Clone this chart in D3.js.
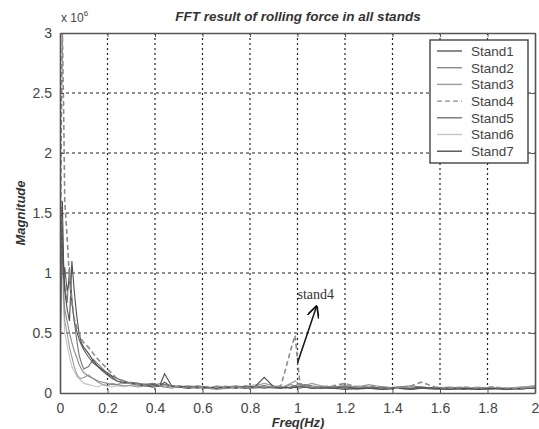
<!DOCTYPE html>
<html>
<head>
<meta charset="utf-8">
<script src="https://cdn.jsdelivr.net/npm/d3@7"></script>
<style>
  body { margin: 0; background: #fff; }
  svg text { font-family: "Liberation Sans", Arial, sans-serif; }
</style>
</head>
<body>
<div id="chart"></div>
<script>
// frequency grid (Hz), shared by all stands
var freq = [0, 0.005, 0.01, 0.015, 0.02,
  0.03, 0.04, 0.05, 0.06, 0.07, 0.08, 0.09, 0.1,
  0.12, 0.14, 0.16, 0.18, 0.2,
  0.22, 0.24, 0.27, 0.3,
  0.33, 0.36, 0.39, 0.42, 0.44, 0.47, 0.5,
  0.54, 0.58, 0.62, 0.66, 0.7, 0.74, 0.78, 0.82, 0.86, 0.9,
  0.93, 0.95, 0.97, 0.99, 1.01, 1.03, 1.06, 1.1,
  1.15, 1.2, 1.25, 1.3, 1.36, 1.42, 1.48, 1.52, 1.58, 1.64, 1.7, 1.76, 1.82, 1.88, 1.94, 2.0];

// magnitudes in units of 1e6
var stand1 = [0.08, 1.55, 1.25, 0.95, 1.05,
  0.85, 0.95, 0.75, 0.6, 0.52, 0.45, 0.4, 0.36,
  0.3, 0.25, 0.22, 0.18, 0.15,
  0.12, 0.1, 0.09, 0.08,
  0.07, 0.06, 0.07, 0.06, 0.09, 0.05, 0.06,
  0.05, 0.04, 0.05, 0.04, 0.05, 0.04, 0.06, 0.05, 0.04, 0.05,
  0.04, 0.05, 0.04, 0.05, 0.06, 0.05, 0.04, 0.05,
  0.04, 0.05, 0.04, 0.04, 0.05, 0.04, 0.04, 0.05, 0.04, 0.04, 0.03, 0.04, 0.04, 0.03, 0.04, 0.04];
var stand2 = [0.05, 1.2, 1.4, 0.8, 0.7,
  0.6, 0.5, 0.42, 0.35, 0.3, 0.24, 0.2, 0.17,
  0.14, 0.12, 0.1, 0.09, 0.08,
  0.07, 0.07, 0.06, 0.06,
  0.05, 0.06, 0.05, 0.06, 0.05, 0.04, 0.05,
  0.04, 0.05, 0.04, 0.03, 0.04, 0.05, 0.04, 0.04, 0.05, 0.04,
  0.04, 0.05, 0.07, 0.06, 0.08, 0.06, 0.05, 0.04,
  0.05, 0.04, 0.03, 0.04, 0.03, 0.04, 0.03, 0.04, 0.03, 0.03, 0.04, 0.03, 0.03, 0.04, 0.03, 0.05];
var stand3 = [0.04, 1.0, 1.3, 0.9, 0.6,
  0.5, 0.38, 0.3, 0.22, 0.16, 0.13, 0.12, 0.13,
  0.15, 0.12, 0.09, 0.07, 0.06,
  0.08, 0.07, 0.09, 0.08,
  0.08, 0.07, 0.06, 0.08, 0.07, 0.06, 0.05,
  0.06, 0.05, 0.04, 0.06, 0.05, 0.04, 0.05, 0.06, 0.08, 0.06,
  0.05, 0.06, 0.08, 0.1, 0.07, 0.06, 0.08, 0.06,
  0.05, 0.06, 0.05, 0.07, 0.05, 0.04, 0.05, 0.04, 0.05, 0.04, 0.04, 0.05, 0.04, 0.04, 0.05, 0.06];
var stand4 = [0.1, 2.2, 3.0, 2.4, 1.6,
  1.3, 0.95, 0.75, 0.62, 0.55, 0.5, 0.45, 0.42,
  0.38, 0.33, 0.28, 0.24, 0.2,
  0.16, 0.12, 0.1, 0.08,
  0.07, 0.06, 0.05, 0.06, 0.05, 0.06, 0.05,
  0.04, 0.05, 0.04, 0.05, 0.04, 0.05, 0.04, 0.05, 0.06, 0.05,
  0.06, 0.2, 0.35, 0.48, 0.08, 0.06, 0.05, 0.05,
  0.06, 0.08, 0.05, 0.06, 0.05, 0.04, 0.06, 0.09, 0.05, 0.04, 0.05, 0.04, 0.05, 0.04, 0.04, 0.05];
var stand5 = [0.06, 1.3, 1.1, 1.0, 0.9,
  0.75, 1.05, 0.8, 0.6, 0.45, 0.32, 0.25, 0.2,
  0.22, 0.28, 0.24, 0.2, 0.16,
  0.13, 0.1, 0.08, 0.09,
  0.08, 0.07, 0.08, 0.06, 0.07, 0.06, 0.05,
  0.05, 0.06, 0.05, 0.04, 0.05, 0.06, 0.05, 0.05, 0.06, 0.05,
  0.05, 0.04, 0.05, 0.06, 0.05, 0.07, 0.06, 0.05,
  0.05, 0.06, 0.04, 0.05, 0.04, 0.05, 0.06, 0.05, 0.04, 0.05, 0.04, 0.03, 0.04, 0.04, 0.03, 0.05];
var stand6 = [0.03, 0.9, 1.1, 0.7, 0.5,
  0.4, 0.3, 0.22, 0.18, 0.14, 0.12, 0.1, 0.08,
  0.07, 0.06, 0.05, 0.07, 0.06,
  0.05, 0.06, 0.05, 0.07,
  0.06, 0.08, 0.07, 0.06, 0.05, 0.06, 0.05,
  0.06, 0.05, 0.04, 0.05, 0.06, 0.04, 0.05, 0.07, 0.05, 0.04,
  0.05, 0.04, 0.05, 0.04, 0.06, 0.05, 0.04, 0.05,
  0.04, 0.05, 0.06, 0.05, 0.04, 0.05, 0.04, 0.05, 0.04, 0.04, 0.05, 0.04, 0.05, 0.04, 0.05, 0.06];
var stand7 = [0.07, 1.4, 1.6, 1.1, 0.85,
  0.7, 0.6, 1.1, 0.85, 0.65, 0.5, 0.42, 0.38,
  0.33, 0.27, 0.22, 0.19, 0.17,
  0.14, 0.12, 0.1, 0.08,
  0.07, 0.06, 0.05, 0.06, 0.16, 0.06, 0.05,
  0.04, 0.05, 0.04, 0.05, 0.04, 0.05, 0.04, 0.05, 0.13, 0.05,
  0.04, 0.05, 0.04, 0.05, 0.04, 0.05, 0.04, 0.04,
  0.04, 0.03, 0.04, 0.04, 0.03, 0.04, 0.03, 0.04, 0.04, 0.03, 0.04, 0.03, 0.04, 0.03, 0.04, 0.04];

var standNames = ["Stand1", "Stand2", "Stand3", "Stand4", "Stand5", "Stand6", "Stand7"];
var standValues = [stand1, stand2, stand3, stand4, stand5, stand6, stand7];
var standColors = ["#5a5a5a", "#8a8a8a", "#9c9c9c", "#8c8c8c", "#747474", "#c4c4c4", "#4e4e4e"];
var standDash = [null, null, null, "5,3", null, null, null];

var xTicks = [0, 0.2, 0.4, 0.6, 0.8, 1, 1.2, 1.4, 1.6, 1.8, 2];
var yTicks = [0, 0.5, 1, 1.5, 2, 2.5, 3];

var W = 539, H = 429;
var margin = {top: 33, right: 4, bottom: 36, left: 60};
var width = W - margin.left - margin.right;
var height = H - margin.top - margin.bottom;

var svg = d3.select("#chart").append("svg")
    .attr("width", W)
    .attr("height", H);

var g = svg.append("g")
    .attr("transform", "translate(" + margin.left + "," + margin.top + ")");

var x = d3.scaleLinear().domain([0, 2]).range([0, width]);
var y = d3.scaleLinear().domain([0, 3]).range([height, 0]);

// grid
g.append("g").selectAll("line.vg")
    .data(xTicks.slice(1, -1))
    .enter().append("line")
    .attr("x1", function(d) { return x(d); })
    .attr("x2", function(d) { return x(d); })
    .attr("y1", 0).attr("y2", height)
    .attr("stroke", "#222").attr("stroke-width", 1.2)
    .attr("stroke-dasharray", "2,3");
g.append("g").selectAll("line.hg")
    .data(yTicks.slice(1, -1))
    .enter().append("line")
    .attr("y1", function(d) { return y(d); })
    .attr("y2", function(d) { return y(d); })
    .attr("x1", 0).attr("x2", width)
    .attr("stroke", "#222").attr("stroke-width", 1.2)
    .attr("stroke-dasharray", "3,3");

// curves
var clip = svg.append("clipPath").attr("id", "clip")
    .append("rect").attr("width", width).attr("height", height + 1);

var line = d3.line()
    .x(function(d) { return x(d[0]); })
    .y(function(d) { return y(d[1]); });

var order = [5, 2, 1, 4, 0, 6, 3];
g.append("g").attr("clip-path", "url(#clip)")
    .selectAll("path")
    .data(order)
    .enter().append("path")
    .attr("fill", "none")
    .attr("stroke", function(i) { return standColors[i]; })
    .attr("stroke-width", function(i) { return i === 3 ? 1.6 : 1.1; })
    .attr("stroke-dasharray", function(i) { return standDash[i]; })
    .attr("d", function(i) {
        return line(freq.map(function(f, k) { return [f, standValues[i][k]]; }));
    });

// axes with inward ticks (matlab style)
var fmt = function(d) { return String(d); };
var xAxis = g.append("g").attr("transform", "translate(0," + height + ")")
    .call(d3.axisBottom(x).tickValues(xTicks).tickFormat(fmt).tickSizeInner(-4).tickSizeOuter(0).tickPadding(10));
var yAxis = g.append("g")
    .call(d3.axisLeft(y).tickValues(yTicks).tickFormat(fmt).tickSizeInner(-4).tickSizeOuter(0).tickPadding(8));
g.append("g")
    .call(d3.axisTop(x).tickValues(xTicks).tickFormat("").tickSizeInner(-4).tickSizeOuter(0));
g.append("g").attr("transform", "translate(" + width + ",0)")
    .call(d3.axisRight(y).tickValues(yTicks).tickFormat("").tickSizeInner(-4).tickSizeOuter(0));

g.selectAll(".domain").attr("stroke", "#555").attr("stroke-width", 1.6);
g.selectAll(".tick line").attr("stroke", "#555");
g.selectAll(".tick text")
    .attr("font-size", 14)
    .attr("fill", "#444")
    .style("font-family", "'Liberation Sans', Arial, sans-serif");

// exponent label
var ex = svg.append("text")
    .attr("x", margin.left + 1)
    .attr("y", 22)
    .attr("font-size", 12)
    .attr("fill", "#444");
ex.append("tspan").text("x 10");
ex.append("tspan").attr("dy", -6).attr("font-size", 8).text("6");

// title and axis labels
svg.append("text")
    .attr("x", 298).attr("y", 21)
    .attr("text-anchor", "middle")
    .attr("font-size", 13.5)
    .attr("font-weight", "bold")
    .attr("font-style", "italic")
    .attr("fill", "#333")
    .text("FFT result of rolling force in all stands");

svg.append("text")
    .attr("x", 298).attr("y", 427)
    .attr("text-anchor", "middle")
    .attr("font-size", 13)
    .attr("font-weight", "bold")
    .attr("font-style", "italic")
    .attr("fill", "#333")
    .text("Freq(Hz)");

svg.append("text")
    .attr("transform", "translate(25," + (margin.top + y(1.5)) + ") rotate(-90)")
    .attr("text-anchor", "middle")
    .attr("font-size", 13)
    .attr("font-weight", "bold")
    .attr("font-style", "italic")
    .attr("fill", "#333")
    .text("Magnitude");

// legend
var lg = svg.append("g").attr("transform", "translate(430,40)");
lg.append("rect")
    .attr("width", 98).attr("height", 123)
    .attr("fill", "#fff")
    .attr("stroke", "#444").attr("stroke-width", 1.4);
var item = lg.selectAll("g.item")
    .data(standNames)
    .enter().append("g")
    .attr("transform", function(d, i) { return "translate(0," + (11 + i * 16.7) + ")"; });
item.append("line")
    .attr("x1", 7).attr("x2", 32)
    .attr("stroke", function(d, i) { return standColors[i]; })
    .attr("stroke-width", 1.4)
    .attr("stroke-dasharray", function(d, i) { return standDash[i]; });
item.append("text")
    .attr("x", 41).attr("dy", "0.36em")
    .attr("font-size", 13.5)
    .attr("fill", "#444")
    .text(function(d) { return d; });

// annotation for stand4 peak
svg.append("defs").append("marker")
    .attr("id", "arrow")
    .attr("viewBox", "0 0 10 10")
    .attr("refX", 9).attr("refY", 5)
    .attr("markerWidth", 8).attr("markerHeight", 8)
    .attr("orient", "auto")
    .append("path")
    .attr("d", "M0,0 L10,5 L0,10")
    .attr("fill", "none")
    .attr("stroke", "#111")
    .attr("stroke-width", 1.5);
svg.append("line")
    .attr("x1", margin.left + x(1.0)).attr("y1", margin.top + y(0.25))
    .attr("x2", margin.left + x(1.08)).attr("y2", margin.top + y(0.72))
    .attr("stroke", "#111").attr("stroke-width", 1.5)
    .attr("marker-end", "url(#arrow)");
svg.append("text")
    .attr("x", margin.left + x(1.0))
    .attr("y", margin.top + y(0.78))
    .attr("font-size", 14)
    .style("font-family", "'Liberation Serif', 'Times New Roman', serif")
    .attr("fill", "#333")
    .text("stand4");
</script>
</body>
</html>
